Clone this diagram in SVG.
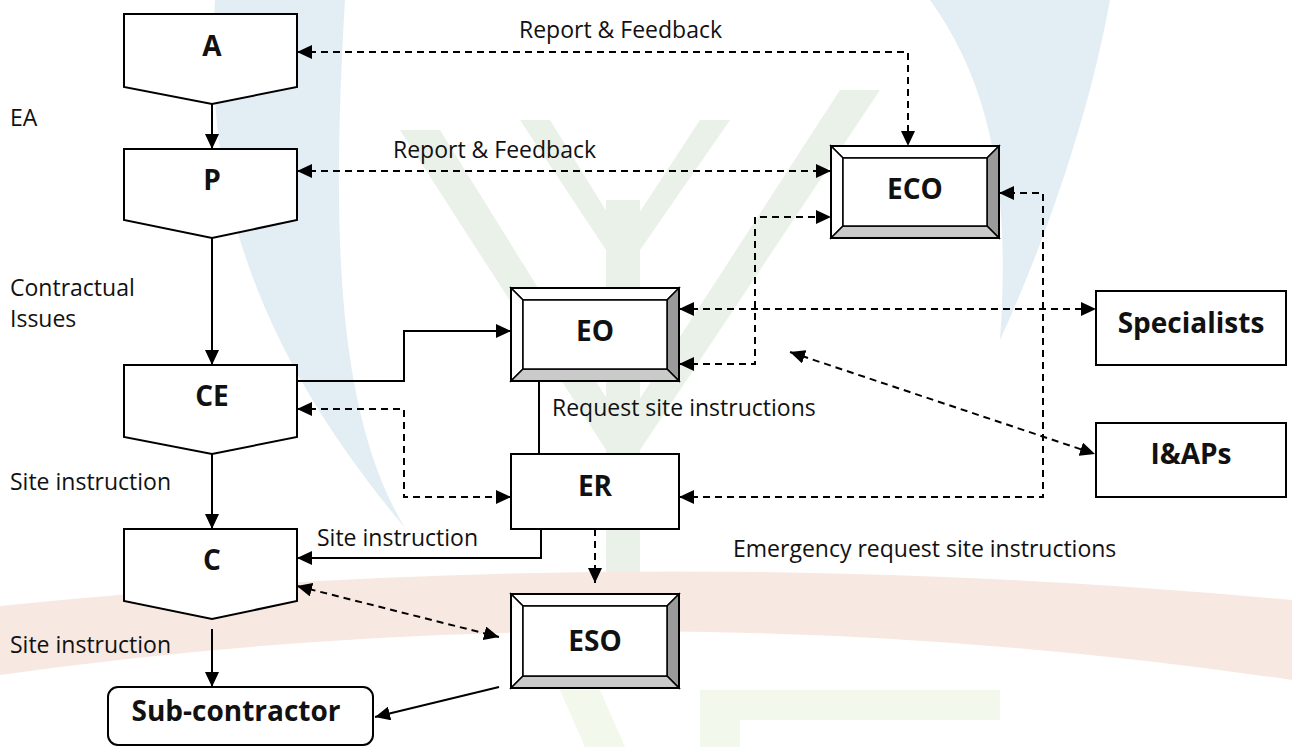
<svg xmlns="http://www.w3.org/2000/svg" width="1292" height="747" viewBox="0 0 1292 747">
<defs>
<style>
.lbl{font-family:"Open Sans","Liberation Sans",sans-serif;font-size:23px;fill:#111}
.nl{font-family:"Open Sans","Liberation Sans",sans-serif;font-size:28px;font-weight:bold;fill:#111;text-anchor:middle}
.shape{fill:#fff;stroke:#000;stroke-width:2}
.solid{fill:none;stroke:#000;stroke-width:2}
.dash{fill:none;stroke:#000;stroke-width:2;stroke-dasharray:7 5}
.bl{fill:#fff;stroke:#000;stroke-width:1.5}
.br{fill:#9a9a9a;stroke:#000;stroke-width:1.5}
.bb{fill:#cacaca;stroke:#000;stroke-width:1.5}
.wm-b{fill:#e3eef4}
.wm-g{fill:#e9f1e8}
.wm-p{fill:#f7e9e1}
.wm-l{fill:#f3f8ec}
</style>
<marker id="ah" viewBox="0 0 15 14" refX="15" refY="7" markerWidth="15" markerHeight="14" markerUnits="userSpaceOnUse" orient="auto-start-reverse">
<path d="M0,0 L15,7 L0,14 Z" fill="#000"/>
</marker>
</defs>
<rect width="1292" height="747" fill="#fff"/>
<g id="watermark">
<path class="wm-b" d="M215,0 C205,170 240,330 405,528 C340,420 330,250 345,0 Z"/>
<path class="wm-b" d="M930,0 C995,90 1010,200 1000,340 C1050,230 1090,110 1110,0 Z"/>
<path class="wm-g" d="M606,200 L640,200 L640,612 L606,612 Z"/>
<path class="wm-g" d="M520,120 L550,120 L618,230 L606,250 Z"/>
<path class="wm-g" d="M730,120 L700,120 L628,230 L640,250 Z"/>
<path class="wm-g" d="M400,130 L440,130 L620,420 L606,450 Z"/>
<path class="wm-g" d="M880,90 L840,90 L626,420 L640,450 Z"/>
<path class="wm-p" d="M0,606 Q640,540 1292,600 L1292,680 Q640,585 0,675 Z"/>
<path class="wm-l" d="M560,690 L600,690 L625,747 L585,747 Z"/>
<path class="wm-l" d="M700,690 L1000,690 L1000,720 L740,720 L740,747 L700,747 Z"/>
</g>
<g id="connectors">
<path class="solid" d="M212,104 V149" marker-end="url(#ah)"/>
<path class="solid" d="M212,238 V365" marker-end="url(#ah)"/>
<path class="solid" d="M212,454 V529" marker-end="url(#ah)"/>
<path class="solid" d="M212,629 V687" marker-end="url(#ah)"/>
<path class="dash" d="M297,52 H908 V146" marker-start="url(#ah)" marker-end="url(#ah)"/>
<path class="dash" d="M297,171 H831" marker-start="url(#ah)" marker-end="url(#ah)"/>
<path class="dash" d="M679,364 H755 V217 H831" marker-start="url(#ah)" marker-end="url(#ah)"/>
<path class="dash" d="M679,309 H1096" marker-start="url(#ah)" marker-end="url(#ah)"/>
<path class="dash" d="M679,497 H1043 V193 H999" marker-start="url(#ah)" marker-end="url(#ah)"/>
<path class="dash" d="M790,352 L1095,454" marker-start="url(#ah)" marker-end="url(#ah)"/>
<path class="solid" d="M297,381 H404 V331 H511" marker-end="url(#ah)"/>
<path class="solid" d="M539,381 V454"/>
<path class="dash" d="M297,409 H404 V497 H511" marker-start="url(#ah)" marker-end="url(#ah)"/>
<path class="solid" d="M541,529 V558 H297" marker-end="url(#ah)"/>
<path class="dash" d="M595,529 V583" marker-end="url(#ah)"/>
<path class="dash" d="M297,586 L499,637" marker-start="url(#ah)" marker-end="url(#ah)"/>
<path class="solid" d="M499,687 L375,717" marker-end="url(#ah)"/>
</g>
<g id="labels">
<text class="lbl" x="519" y="38">Report &amp; Feedback</text>
<text class="lbl" x="393" y="158">Report &amp; Feedback</text>
<text class="lbl" x="10" y="126">EA</text>
<text class="lbl" x="10" y="296">Contractual</text>
<text class="lbl" x="10" y="327">Issues</text>
<text class="lbl" x="10" y="490">Site instruction</text>
<text class="lbl" x="10" y="653">Site instruction</text>
<text class="lbl" x="317" y="546">Site instruction</text>
<text class="lbl" x="552" y="416">Request site instructions</text>
<text class="lbl" x="733" y="557">Emergency request site instructions</text>
</g>
<g id="node-A"><path class="shape" d="M124,14 H297 V87 L212,104 L124,87 Z"/><text class="nl" x="212" y="56">A</text></g>
<g id="node-P"><path class="shape" d="M124,149 H297 V220 L212,238 L124,220 Z"/><text class="nl" x="212" y="190">P</text></g>
<g id="node-CE"><path class="shape" d="M124,365 H297 V437 L212,454 L124,437 Z"/><text class="nl" x="212" y="406">CE</text></g>
<g id="node-C"><path class="shape" d="M124,529 H297 V601 L212,619 L124,601 Z"/><text class="nl" x="212" y="570">C</text></g>
<g id="node-ECO">
<polygon class="bl" points="831,146 999,146 987,158 843,158"/>
<polygon class="bl" points="831,146 843,158 843,226 831,238"/>
<polygon class="br" points="999,146 999,238 987,226 987,158"/>
<polygon class="bb" points="831,238 843,226 987,226 999,238"/>
<rect x="843" y="158" width="144" height="68" fill="#fff" stroke="#000" stroke-width="1.5"/>
<rect x="831" y="146" width="168" height="92" fill="none" stroke="#000" stroke-width="2"/>
<text class="nl" x="915" y="199">ECO</text>
</g>
<g id="node-EO">
<polygon class="bl" points="511,288 679,288 667,300 523,300"/>
<polygon class="bl" points="511,288 523,300 523,369 511,381"/>
<polygon class="br" points="679,288 679,381 667,369 667,300"/>
<polygon class="bb" points="511,381 523,369 667,369 679,381"/>
<rect x="523" y="300" width="144" height="69" fill="#fff" stroke="#000" stroke-width="1.5"/>
<rect x="511" y="288" width="168" height="93" fill="none" stroke="#000" stroke-width="2"/>
<text class="nl" x="595" y="341">EO</text>
</g>
<g id="node-ER"><rect class="shape" x="511" y="454" width="168" height="75"/><text class="nl" x="595" y="496">ER</text></g>
<g id="node-ESO">
<polygon class="bl" points="511,594 679,594 667,606 523,606"/>
<polygon class="bl" points="511,594 523,606 523,676 511,688"/>
<polygon class="br" points="679,594 679,688 667,676 667,606"/>
<polygon class="bb" points="511,688 523,676 667,676 679,688"/>
<rect x="523" y="606" width="144" height="70" fill="#fff" stroke="#000" stroke-width="1.5"/>
<rect x="511" y="594" width="168" height="94" fill="none" stroke="#000" stroke-width="2"/>
<text class="nl" x="595" y="651">ESO</text>
</g>
<g id="node-Specialists"><rect class="shape" x="1096" y="291" width="190" height="74"/><text class="nl" x="1191" y="333">Specialists</text></g>
<g id="node-IAPs"><rect class="shape" x="1096" y="423" width="190" height="74"/><text class="nl" x="1191" y="464">I&amp;APs</text></g>
<g id="node-Sub"><rect class="shape" x="108" y="687" width="265" height="58" rx="10"/><text class="nl" x="236" y="721">Sub-contractor</text></g>
</svg>
